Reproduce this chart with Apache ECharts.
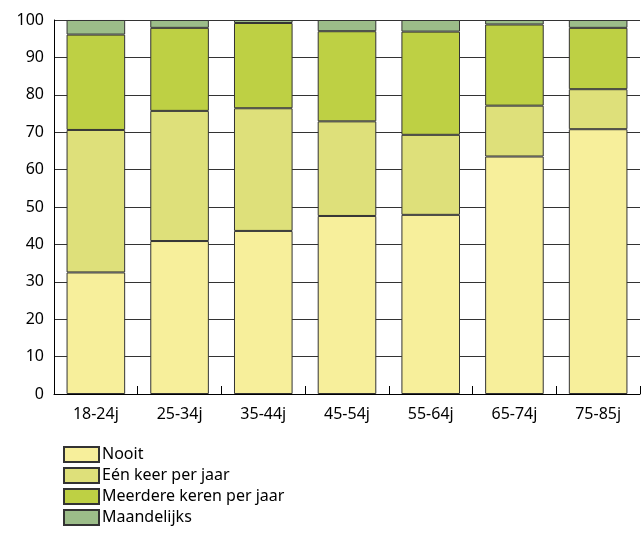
<!DOCTYPE html>
<html>
<head>
<meta charset="utf-8">
<script src="https://cdn.jsdelivr.net/npm/echarts@6/dist/echarts.min.js"></script>
<style>
html,body{margin:0;padding:0;background:#fff;}
#chart{width:644px;height:539px;}
</style>
</head>
<body>
<div id="chart"></div>
<script>
const categories = ['18-24j','25-34j','35-44j','45-54j','55-64j','65-74j','75-85j'];
const seriesNames = ['Nooit','Eén keer per jaar','Meerdere keren per jaar','Maandelijks'];
const nooit       = [32.5, 40.9, 43.6, 47.6, 47.9, 63.5, 70.8];
const eenKeer     = [38.1, 34.8, 32.8, 25.3, 21.4, 13.6, 10.7];
const meerdere    = [25.5, 22.2, 22.8, 24.1, 27.6, 21.7, 16.4];
const maandelijks = [3.9, 2.1, 0.8, 3.0, 3.1, 1.2, 2.1];
const yTicks = [0,10,20,30,40,50,60,70,80,90,100];

const colors = ['#F7EF9B','#DEE07A','#BED044','#9CBD89'];
const dataSets = [nooit, eenKeer, meerdere, maandelijks];
const FONT = 'Noto Sans';

const chart = echarts.init(document.getElementById('chart'), null, {renderer:'canvas'});
chart.setOption({
  animation:false,
  backgroundColor:'#fff',
  textStyle:{fontFamily:FONT},
  grid:{left:54, right:4, top:20, bottom:145, containLabel:false},
  legend:{
    orient:'vertical', left:63, top:446, height:100, padding:0,
    itemWidth:35, itemHeight:15, itemGap:4,
    icon:'rect',
    data:seriesNames,
    textStyle:{fontFamily:FONT, fontSize:16, color:'#000', padding:[0,0,0,-2]}
  },
  xAxis:{
    type:'category', data:categories,
    axisLine:{lineStyle:{color:'#000', width:1}},
    axisTick:{show:true, inside:true, length:8, lineStyle:{color:'#000'}},
    axisLabel:{fontFamily:FONT, fontSize:16, color:'#000', margin:12}
  },
  yAxis:{
    type:'value', min:yTicks[0], max:yTicks[yTicks.length-1], interval:10,
    axisLine:{show:true, lineStyle:{color:'#000', width:1}},
    axisTick:{show:false},
    splitLine:{show:true, lineStyle:{color:'#333', width:1}},
    axisLabel:{fontFamily:FONT, fontSize:16, color:'#000', margin:10}
  },
  series: seriesNames.map((n,i)=>({
    name:n, type:'bar', stack:'total', data:dataSets[i],
    barWidth:'70%',
    itemStyle:{color:colors[i], borderColor:'#333', borderWidth:1}
  }))
});
</script>
</body>
</html>
